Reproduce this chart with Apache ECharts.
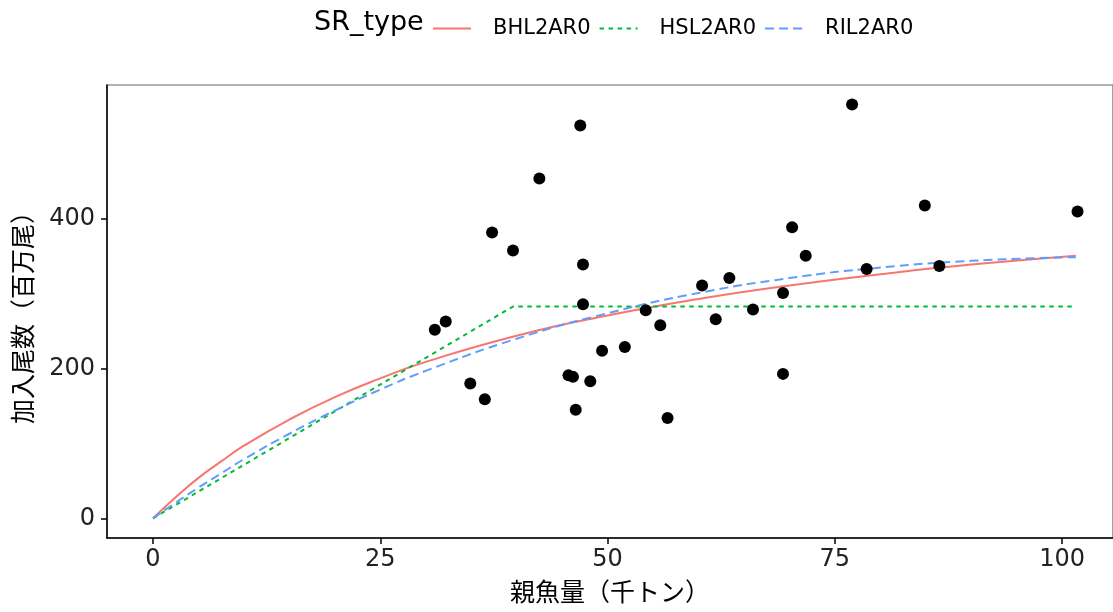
<!DOCTYPE html>
<html>
<head>
<meta charset="utf-8">
<script src="https://cdn.jsdelivr.net/npm/echarts@6/dist/echarts.min.js"></script>
<style>
  html, body { margin: 0; padding: 0; background: #fff; }
  #chart { width: 1113px; height: 612px; }
</style>
</head>
<body>
<div id="chart"></div>
<script>
// Observed spawning stock biomass (thousand t) and recruitment (million fish)
const ssb = [31.0, 32.2, 34.9, 36.5, 37.3, 39.6, 42.5, 47.0, 47.3, 47.3, 45.7, 46.2, 46.5, 48.1,
             49.4, 51.9, 54.2, 55.8, 56.6, 60.4, 61.9, 63.4, 66.0, 69.3, 69.3, 70.3, 71.8, 76.9,
             78.5, 84.9, 86.5, 101.7];
const recruits = [252, 263, 180, 159, 382, 358, 454, 525, 339, 286, 191, 189, 145, 183,
                  224, 229, 278, 258, 134, 311, 266, 321, 279, 301, 193, 389, 351, 553,
                  333, 418, 337, 410];

// Fitted stock-recruitment curves
const curveSSB = [0, 2.5, 5, 7.5, 10, 15, 20, 25, 30, 40, 50, 60, 70, 80, 90, 101.5];
const bhl = [0, 28, 54, 76, 97, 132, 162, 187, 209, 244, 271, 293, 311, 326, 339, 351];
const ril = [0, 21, 41, 60, 79, 113, 144, 172, 197, 240, 274, 301, 321, 335, 344, 349];
const hslSSB = [0, 39.6, 101.5];
const hsl = [0, 283, 283];

const seriesNames = ['BHL2AR0', 'HSL2AR0', 'RIL2AR0'];
const xTicks = [0, 25, 50, 75, 100];
const yTicks = [0, 200, 400];

const FONT = '"DejaVu Sans", "Noto Sans CJK JP", sans-serif';
const pairs = (xs, ys) => xs.map((x, i) => [x, ys[i]]);

const chart = echarts.init(document.getElementById('chart'), null, { renderer: 'canvas' });

chart.setOption({
  animation: false,
  backgroundColor: '#ffffff',
  textStyle: { fontFamily: FONT },
  graphic: [{
    type: 'text',
    left: 314,
    top: 9,
    style: { text: 'SR_type', fontSize: 27, fontFamily: FONT, fill: '#000' }
  }],
  legend: {
    left: 427,
    top: 13,
    itemWidth: 38,
    itemHeight: 14,
    itemGap: 8,
    data: seriesNames,
    itemStyle: { opacity: 0, borderWidth: 0 },
    formatter: '{t|{name}}',
    textStyle: {
      fontFamily: FONT,
      rich: { t: { fontSize: 21, color: '#000', fontFamily: FONT, padding: [0, 0, 0, 17] } }
    }
  },
  grid: { left: 107, right: -2, top: 85, bottom: 67, show: true, borderColor: '#666', borderWidth: 1.2 },
  xAxis: {
    type: 'value',
    min: -5.06,
    max: 105.6,
    name: '親魚量（千トン）',
    nameLocation: 'middle',
    nameGap: 44,
    nameTextStyle: { fontSize: 25, color: '#000', fontFamily: FONT },
    axisLine: { show: true, onZero: false, lineStyle: { color: '#000', width: 1.5 } },
    axisTick: { show: true, length: 6, lineStyle: { color: '#000', width: 1.5 }, customValues: xTicks },
    axisLabel: { fontSize: 24, color: '#222', margin: 10, customValues: xTicks },
    splitLine: { show: false }
  },
  yAxis: {
    type: 'value',
    min: -26.3,
    max: 579,
    name: '加入尾数（百万尾）',
    nameLocation: 'middle',
    nameGap: 64,
    nameTextStyle: { fontSize: 25, color: '#000', fontFamily: FONT },
    axisLine: { show: true, onZero: false, lineStyle: { color: '#000', width: 1.5 } },
    axisTick: { show: true, length: 6, lineStyle: { color: '#000', width: 1.5 }, customValues: yTicks },
    axisLabel: { fontSize: 24, color: '#222', margin: 12, customValues: yTicks },
    splitLine: { show: false }
  },
  series: [
    {
      name: 'BHL2AR0', type: 'line', data: pairs(curveSSB, bhl), smooth: true,
      showSymbol: false, symbol: 'none', color: '#F8766D',
      lineStyle: { color: '#F8766D', width: 2, type: 'solid' }, z: 3
    },
    {
      name: 'HSL2AR0', type: 'line', data: pairs(hslSSB, hsl),
      showSymbol: false, symbol: 'none', color: '#00BA38',
      lineStyle: { color: '#00BA38', width: 2, type: [4.5, 4.5] }, z: 3
    },
    {
      name: 'RIL2AR0', type: 'line', data: pairs(curveSSB, ril), smooth: true,
      showSymbol: false, symbol: 'none', color: '#619CFF',
      lineStyle: { color: '#619CFF', width: 2, type: [9, 5] }, z: 3
    },
    {
      name: 'observed', type: 'scatter', data: pairs(ssb, recruits),
      symbol: 'circle', symbolSize: 12, itemStyle: { color: '#000', opacity: 1 }, z: 4
    }
  ]
});
</script>
</body>
</html>
